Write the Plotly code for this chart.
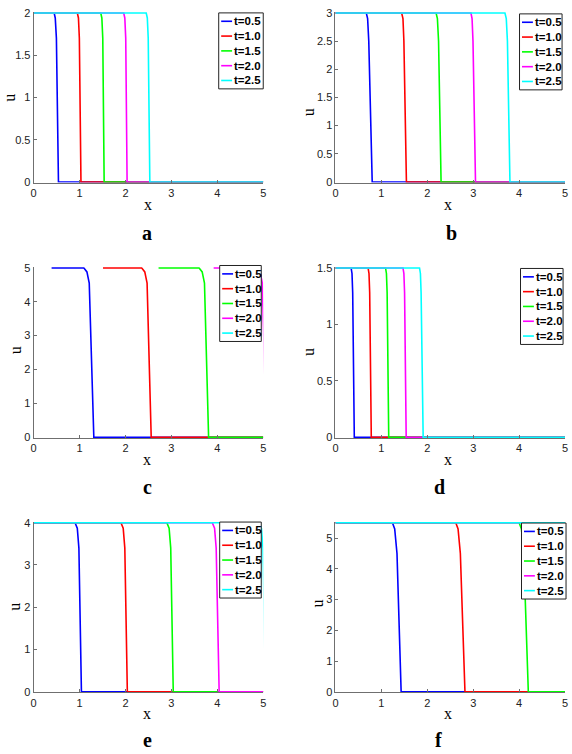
import plotly.graph_objects as go

W, H = 572, 754

# ---------------- data ----------------
TIMES = ["t=0.5", "t=1.0", "t=1.5", "t=2.0", "t=2.5"]
COLORS = ["#0000ff", "#ff0000", "#00ff00", "#ff00ff", "#00ffff"]
PANEL_LETTERS = ["a", "b", "c", "d", "e", "f"]
X_TICKS = [0, 1, 2, 3, 4, 5]

# panel a
A_TOP = 2.0
A_YTICKS = [0, 0.5, 1, 1.5, 2]
A_U = [2, 2, 1.94, 1.7, 0, 0]
A_X = [
    [0, 0.445, 0.47, 0.495, 0.54, 5],
    [0, 0.95, 0.975, 0.995, 1.03, 5],
    [0, 1.46, 1.485, 1.505, 1.535, 5],
    [0, 1.96, 1.985, 2.005, 2.035, 5],
    [0, 2.45, 2.475, 2.495, 2.53, 5],
]

# panel b
B_TOP = 3.0
B_YTICKS = [0, 0.5, 1, 1.5, 2, 2.5, 3]
B_U = [3, 3, 2.9, 2.5, 0, 0]
B_X = [
    [0, 0.67, 0.70, 0.725, 0.80, 5],
    [0, 1.44, 1.47, 1.49, 1.545, 5],
    [0, 2.19, 2.22, 2.245, 2.30, 5],
    [0, 2.95, 2.975, 2.995, 3.05, 5],
    [0, 3.69, 3.72, 3.745, 3.80, 5],
]

# panel c
C_TOP = 5.0
C_YTICKS = [0, 1, 2, 3, 4, 5]
C_U = [5, 5, 4.88, 4.55, 0, 0]
C_X = [
    [0.39, 1.09, 1.16, 1.21, 1.31, 5],
    [1.51, 2.35, 2.42, 2.47, 2.56, 5],
    [2.72, 3.60, 3.67, 3.72, 3.81, 5],
    [3.92, 4.86, 4.93, 4.98, 5.07, 5.5],
    [5.12, 6.10, 6.17, 6.22, 6.31, 6.5],
]

# panel d
D_TOP = 1.5
D_YTICKS = [0, 0.5, 1, 1.5]
D_U = [1.5, 1.5, 1.45, 1.28, 0, 0]
D_X = [
    [0, 0.34, 0.36, 0.375, 0.41, 5],
    [0, 0.71, 0.73, 0.745, 0.78, 5],
    [0, 1.09, 1.11, 1.125, 1.16, 5],
    [0, 1.47, 1.49, 1.505, 1.54, 5],
    [0, 1.83, 1.85, 1.865, 1.91, 5],
]

# panel e
E_TOP = 4.0
E_YTICKS = [0, 1, 2, 3, 4]
E_U = [4, 4, 3.87, 3.4, 0, 0]
E_X = [
    [0, 0.90, 0.95, 0.985, 1.04, 5],
    [0, 1.90, 1.95, 1.985, 2.04, 5],
    [0, 2.90, 2.95, 2.985, 3.04, 5],
    [0, 3.89, 3.94, 3.975, 4.04, 5],
    [0, 4.91, 4.96, 4.995, 5.05, 5.5],
]

# panel f
F_TOP = 5.5
F_YTICKS = [0, 1, 2, 3, 4, 5]
F_U = [5.5, 5.5, 5.3, 4.5, 0, 0]
F_X = [
    [0, 1.24, 1.29, 1.34, 1.43, 5],
    [0, 2.62, 2.67, 2.72, 2.82, 5],
    [0, 4.00, 4.05, 4.10, 4.20, 5],
    [0, 5.40, 5.45, 5.50, 5.60, 6],
    [0, 6.80, 6.85, 6.90, 7.00, 7.5],
]

# ---------------- layout geometry (pixels) ----------------
# plot area: (left, right, top, bottom)
AREAS = [
    (31, 263, 7.3, 180),
    (336, 568, 7.3, 180),
    (31, 263, 265.7, 438.7),
    (336, 568, 265.7, 438.7),
    (31, 263, 524, 696.7),
    (336, 568, 524, 696.7),
]
LEGEND_BOX = [(218, 8, 45), (522, 9, 43), (219, 264, 42),
              (523, 267, 43), (219, 524, 42), (524, 525, 45)]
XLABEL_POS = [(147, 202), (450, 202), (146, 461), (450, 461), (146, 718), (450, 718)]
ULABEL_POS = [(7, 94), (309, 109), (12, 350), (309, 352), (12, 610), (318, 607)]
LETTER_POS = [(146, 231), (453, 231), (146, 488), (441, 488), (146, 745), (440, 745)]

panels = [
    (A_TOP, A_YTICKS, A_U, A_X),
    (B_TOP, B_YTICKS, B_U, B_X),
    (C_TOP, C_YTICKS, C_U, C_X),
    (D_TOP, D_YTICKS, D_U, D_X),
    (E_TOP, E_YTICKS, E_U, E_X),
    (F_TOP, F_YTICKS, F_U, F_X),
]


def px(x):
    return x / W


def py(y):
    return 1 - y / H


fig = go.Figure()
shapes = []
annotations = []
SANS = "Liberation Sans, Arial, Helvetica, sans-serif"
SERIF = "Liberation Serif, Times New Roman, serif"
AXCOL = "#6f6f6f"

for k, (top, yticks, uvals, xlists) in enumerate(panels):
    n = "" if k == 0 else str(k + 1)
    xa, ya = "x" + n, "y" + n
    for i, xs in enumerate(xlists):
        fig.add_trace(go.Scatter(
            x=xs, y=uvals, mode="lines", name=TIMES[i],
            line=dict(color=COLORS[i], width=1.6),
            xaxis=xa, yaxis=ya, showlegend=False, hoverinfo="skip"))
    l, r, t, b = AREAS[k]
    axis_common = dict(showline=True, linecolor=AXCOL, linewidth=1, mirror=False,
                       ticks="inside", ticklen=3, tickcolor=AXCOL, tickwidth=1,
                       showgrid=False, zeroline=False,
                       tickfont=dict(family=SANS, size=11, color="#222"))
    fig.update_layout(**{
        "xaxis" + n: dict(domain=[px(l), px(r)], range=[0, 5], tickvals=X_TICKS,
                          anchor=ya, **axis_common),
        "yaxis" + n: dict(domain=[py(b), py(t)], range=[-0.004 * top, top * 1.004],
                          tickvals=yticks, anchor=xa, **axis_common),
    })
    # manual legend box
    lx, ly, lw = LEGEND_BOX[k]
    shapes.append(dict(type="rect", xref="paper", yref="paper",
                       x0=px(lx), x1=px(lx + lw), y0=py(ly + 77), y1=py(ly),
                       line=dict(color="#222", width=1), fillcolor="white", layer="above"))
    for i, name in enumerate(TIMES):
        yy = ly + 8.5 + 15 * i
        shapes.append(dict(type="line", xref="paper", yref="paper",
                           x0=px(lx + 2.5), x1=px(lx + 13.5), y0=py(yy), y1=py(yy),
                           line=dict(color=COLORS[i], width=1.6), layer="above"))
        annotations.append(dict(xref="paper", yref="paper", x=px(lx + 13.5), y=py(yy),
                                xanchor="left", yanchor="middle", showarrow=False,
                                text="<b>%s</b>" % name,
                                font=dict(family=SANS, size=11.5, color="#000")))
    # axis titles and panel letters
    xx, xy = XLABEL_POS[k]
    annotations.append(dict(xref="paper", yref="paper", x=px(xx), y=py(xy),
                            xanchor="center", yanchor="middle", showarrow=False,
                            text="x", font=dict(family=SERIF, size=16, color="#000")))
    ux, uy = ULABEL_POS[k]
    annotations.append(dict(xref="paper", yref="paper", x=px(ux), y=py(uy),
                            xanchor="center", yanchor="middle", showarrow=False,
                            text="u", textangle=-90,
                            font=dict(family=SERIF, size=16, color="#000")))
    cx, cy = LETTER_POS[k]
    annotations.append(dict(xref="paper", yref="paper", x=px(cx), y=py(cy),
                            xanchor="center", yanchor="middle", showarrow=False,
                            text="<b>%s</b>" % PANEL_LETTERS[k],
                            font=dict(family=SERIF, size=20, color="#000")))

fig.update_layout(width=W, height=H, margin=dict(l=0, r=0, t=0, b=0),
                  paper_bgcolor="white", plot_bgcolor="white",
                  shapes=shapes, annotations=annotations, showlegend=False)

fig.write_html("out.html",
               config={"displayModeBar": False},
               post_script="document.body.style.margin='0';"
                           "document.body.style.padding='0';"
                           "document.body.style.overflow='hidden';"
                           "document.documentElement.style.overflow='hidden';")
